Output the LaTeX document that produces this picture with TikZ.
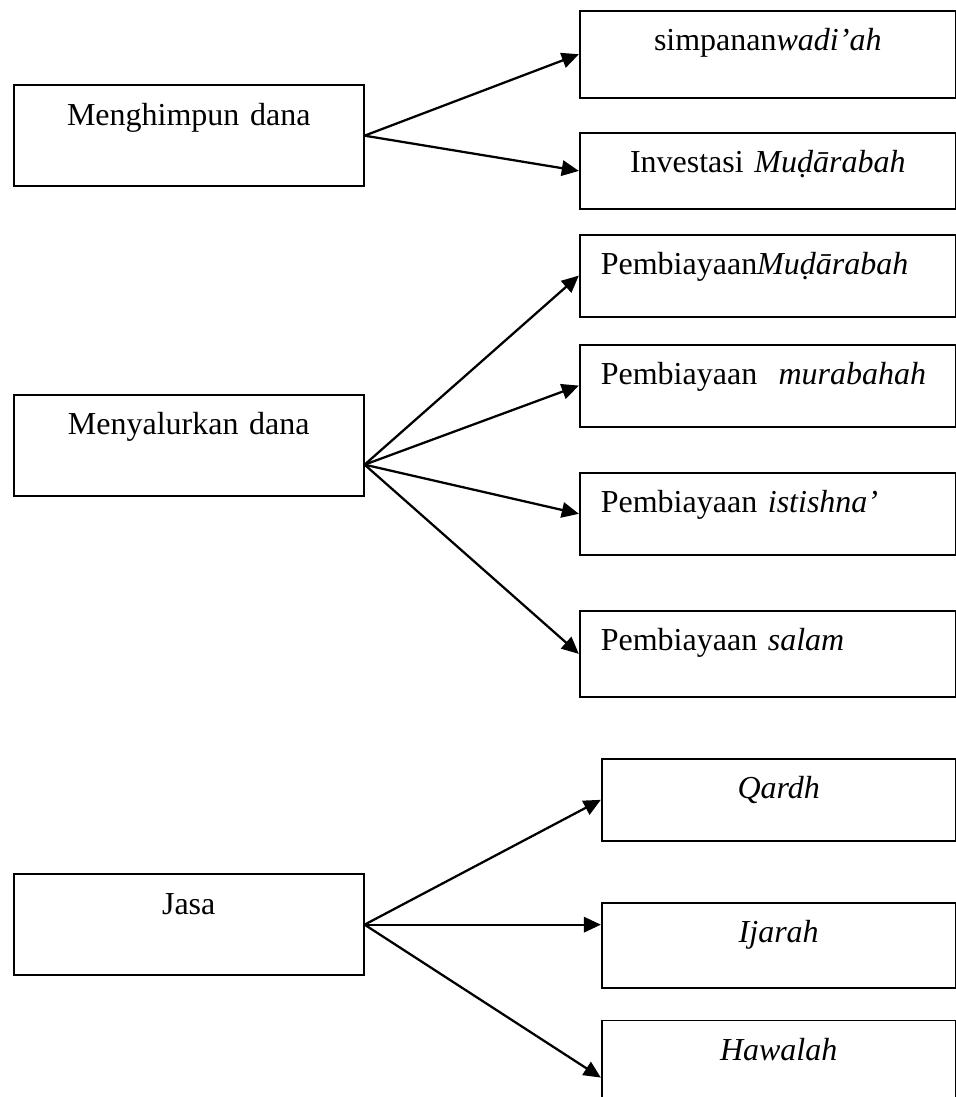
\documentclass[tikz,border=0pt]{standalone}
\usepackage{fontspec}
\setmainfont{Liberation Serif}
\usetikzlibrary{arrows.meta}

\tikzstyle{box}=[draw,line width=0.7pt,anchor=north west,inner xsep=7.9pt,inner ysep=0pt,text height=15pt]
\tikzstyle{mainbox}=[box,text width=115.4pt,align=center,text depth=22.9pt]
\tikzstyle{subbox}=[box,text width=125.2pt,align=left,text depth=15.75pt]
\tikzstyle{jasabox}=[box,text width=116.9pt,align=center,text depth=15.75pt]
\tikzstyle{arrowedge}=[-{Triangle[length=6.4pt,width=5.8pt]},line width=0.85pt]

\begin{document}
\begin{tikzpicture}[font=\fontsize{12}{14.4}\selectfont]
\useasboundingbox (0,0) rectangle (12.60,-14.46);
\clip (0,0) rectangle (12.60,-14.46);
% menghimpun dana
\node[mainbox] (himpun) at (0.17,-1.11) {Menghimpun dana};
\node[subbox,align=center,text depth=17.6pt] (wadiah) at (7.63,-0.13) {simpanan\textit{wadi’ah}};
\node[subbox,align=center,text depth=13.5pt] (investasi) at (7.63,-1.74) {Investasi \textit{Muḍārabah}};
\draw (himpun.east)
    edge[arrowedge] (wadiah.west)
    edge[arrowedge] (investasi.west);
% menyalurkan dana
\node[mainbox] (salur) at (0.17,-5.19) {Menyalurkan dana};
\node[subbox] (mudarabah) at (7.63,-3.08) {Pembiayaan\textit{Muḍārabah}};
\node[subbox] (murabahah) at (7.63,-4.53) {Pembiayaan\ \ \textit{murabahah}};
\node[subbox] (istishna) at (7.63,-6.22) {Pembiayaan \textit{istishna’}};
\node[subbox,text depth=17.25pt] (salam) at (7.63,-8.04) {Pembiayaan \textit{salam}};
\coordinate (salurout) at ([yshift=-7.3pt]salur.east);
\draw (salurout)
    edge[arrowedge] (mudarabah.west)
    edge[arrowedge] (murabahah.west)
    edge[arrowedge] (istishna.west)
    edge[arrowedge] (salam.west);
% jasa
\node[mainbox] (jasa) at (0.17,-11.51) {Jasa};
\node[jasabox] (qardh) at (7.92,-9.99) {\textit{Qardh}};
\node[jasabox,text depth=16.9pt] (ijarah) at (7.92,-11.89) {\textit{Ijarah}};
\node[jasabox,text depth=20pt] (hawalah) at (7.92,-13.44) {\textit{Hawalah}};
\draw (jasa.east)
    edge[arrowedge] (qardh.west)
    edge[arrowedge] (jasa.east -| ijarah.west)
    edge[arrowedge] ([yshift=-21.75pt]hawalah.north west);
\end{tikzpicture}
\end{document}
